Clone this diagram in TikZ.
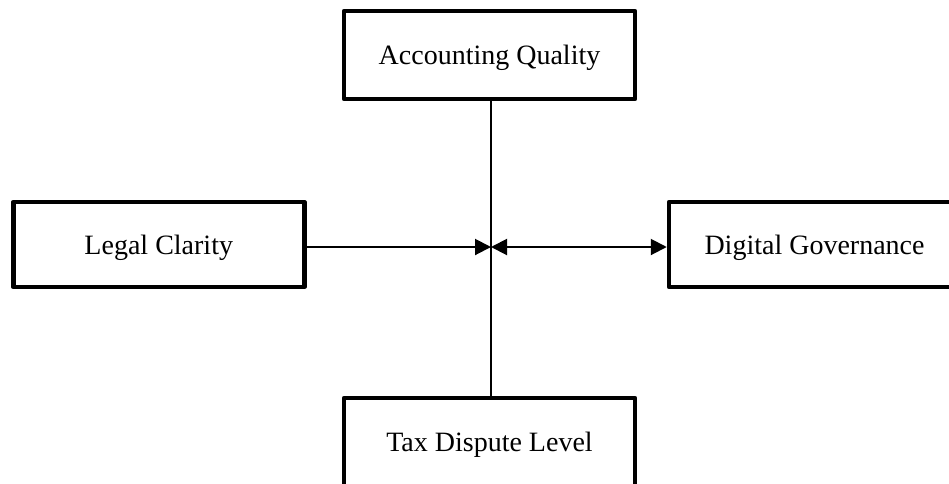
\documentclass[tikz,border=0pt]{standalone}
\usepackage{fontspec}
\setmainfont{Liberation Serif}
\usetikzlibrary{arrows.meta}
\begin{document}
\begin{tikzpicture}[x=1pt,y=-1pt,
  box/.style={draw, line width=4.5pt, line join=round, minimum width=291pt, inner sep=0pt,
    text depth=0pt, font=\fontsize{28}{32}\selectfont, anchor=center},
  conn/.style={line width=2pt}
]
\clip (0,0) rectangle (949,483);
\node[box, minimum height=88pt] (aq) at (489.5,55) {Accounting Quality};
\node[box, minimum height=85pt] (lc) at (158.75,244.5) {Legal Clarity};
\node[box, minimum height=85pt] (dg) at (814.5,244.5) {Digital Governance};
\node[box, minimum height=88pt] (td) at (489.5,442) {Tax Dispute Level};
\coordinate (c) at (491,247);
\draw[conn] (aq.south -| c) -- (td.north -| c);
\draw[conn, -{Triangle[length=16pt,width=16pt]}] (lc.east |- c) -- (c);
\draw[conn, {Triangle[length=16pt,width=16pt]}-{Triangle[length=16pt,width=16pt]}] (c) -- (dg.west |- c);
\end{tikzpicture}
\end{document}
